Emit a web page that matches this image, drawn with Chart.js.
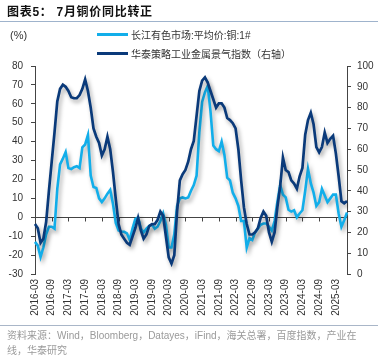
<!DOCTYPE html>
<html><head><meta charset="utf-8">
<script src="https://cdn.jsdelivr.net/npm/chart.js@4/dist/chart.umd.min.js"></script>
<style>
html,body{margin:0;padding:0;background:#fff;}
body{width:392px;height:359px;position:relative;overflow:hidden;font-family:"Liberation Sans","Noto Sans CJK SC",sans-serif;}
canvas{position:absolute;left:0;top:0;}
#title{position:absolute;left:7px;top:4px;font-weight:bold;font-size:12px;font-family:"Liberation Sans","Noto Sans CJK SC";letter-spacing:0.7px;color:#111;white-space:nowrap;line-height:16px;}
#rule1{position:absolute;left:0;top:21px;width:378px;height:1px;background:#9fb3cc;}
#unit{position:absolute;left:10px;top:28px;font-size:11px;color:#333;line-height:14px;}
.leg{position:absolute;left:97px;height:12px;display:flex;align-items:center;font-size:10px;font-family:"Liberation Sans","Noto Sans CJK SC";color:#333;white-space:nowrap;}
.leg i{display:inline-block;width:31px;height:3px;margin-right:3px;}
#rule2{position:absolute;left:0;top:325px;width:378px;height:1px;background:#a9b6c8;}
#src{position:absolute;left:7px;top:328px;font-size:10px;color:#9a9a9a;line-height:15px;white-space:nowrap;font-family:"Liberation Sans","Noto Sans CJK SC";}
</style></head>
<body>
<canvas id="c" width="392" height="359"></canvas>
<div id="title">图表5：&nbsp;7月铜价同比转正</div>
<div id="rule1"></div>
<div id="unit">(%)</div>
<div class="leg" style="top:28px"><i style="background:#12aeea"></i>长江有色市场:平均价:铜:1#</div>
<div class="leg" style="top:47px"><i style="background:#0a3a7a"></i>华泰策略工业金属景气指数（右轴）</div>
<div id="rule2"></div>
<div id="src">资料来源：Wind，Bloomberg，Datayes，iFind，海关总署，百度指数，产业在<br>线，华泰研究</div>
<script>
// categories: monthly 2016-03 .. 2025-07
const categories = [];
for (let y = 2016; y <= 2025; y++) {
  for (let m = 1; m <= 12; m++) {
    if (y === 2016 && m < 3) continue;
    if (y === 2025 && m > 7) continue;
    categories.push(y + '-' + String(m).padStart(2, '0'));
  }
}
// 长江有色市场:平均价:铜:1# 同比 (%), left axis
const copperYoY = [
  -13,-15,-21,-16,-9,-5,-5,-6,15,28,
  31,34.5,26,25.5,26.5,27,26,37,38.5,43.5,
  22,16,15.5,10,8,10,12.5,14.5,7,-3,
  -7,-7.5,-7.7,-8.5,-12,-6,-1,0,-6,-8,
  -6,-4.5,-4,-6,-5,-2,2,-4,-16,-16,
  -9,6,10,10.5,10,10.5,14,17,22,45,
  61,66,69.5,56,38,36,35,40,33,21,
  19.5,13,10,6,-2,-2,-16,-11,-12,-8,
  -6,-4,-3.3,-3.3,-5,-7,-2,8,17,12,
  10.5,4,3,3.7,0,2,3.7,14,25.6,18,
  13,6,8,15,11.5,8,10,12,12,2,
  -5,-1.6,2.5
];
// 华泰策略工业金属景气指数, right axis
const metalIndex = [
  24,22,15,17,25,40,54,68,83,89,
  91,90,88,85,84.5,84.5,86,89,93.5,88,
  80,70,66,63,57,60,66,60,49,36,
  24,19,17,15,14,18,22,27,21,17,
  19,23,24,24,26,30,28,18,8,5,
  9,30,45,48,50,54,60,64,76,88,
  93,94.5,92,88,84,80,82,82,80,75,
  74,72.5,70,60,45,32,24,19,19,20,
  22,27,30,28,20,15.5,20,32,42,56,
  50,49,45,43.5,41,47,51,67,74,77.5,
  72,61,58.5,61,68,63,65,66.5,58,47,
  35,34,35
];
const leftTicks = {min: -30, max: 80, step: 10};
const rightTicks = {min: 0, max: 100, step: 10};

const zeroTicks = {
  id: 'zeroTicks',
  beforeDatasetsDraw(c) {
    const xs = c.scales.x, ys = c.scales.y, ctx = c.ctx;
    const y0 = Math.round(ys.getPixelForValue(0)) + 0.5;
    ctx.save();
    ctx.strokeStyle = '#444';
    ctx.lineWidth = 1;
    ctx.beginPath();
    categories.forEach((lab, i) => {
      if (i % 6 === 0) {
        const px = Math.round(xs.getPixelForValue(i)) + 0.5;
        ctx.moveTo(px, y0);
        ctx.lineTo(px, y0 + 4);
      }
    });
    ctx.stroke();
    ctx.restore();
  }
};
const shadow = {
  id: 'shadow',
  beforeDatasetsDraw(c) {
    const ctx = c.ctx;
    ctx.save();
    ctx.shadowColor = 'rgba(0,0,0,0.35)';
    ctx.shadowBlur = 4;
    ctx.shadowOffsetX = 2;
    ctx.shadowOffsetY = 3;
  },
  afterDatasetsDraw(c) { c.ctx.restore(); }
};

const tickFont = {family: '"Liberation Sans", Arial, sans-serif', size: 10};
new Chart(document.getElementById('c'), {
  type: 'line',
  data: {
    labels: categories,
    datasets: [
      {label: '华泰策略工业金属景气指数（右轴）', data: metalIndex, yAxisID: 'y1',
       borderColor: '#0a3a7a', borderWidth: 2.7, pointRadius: 0, tension: 0, order: 1},
      {label: '长江有色市场:平均价:铜:1#', data: copperYoY, yAxisID: 'y',
       borderColor: '#12aeea', borderWidth: 2.6, pointRadius: 0, tension: 0, order: 2}
    ]
  },
  options: {
    responsive: false, animation: false, devicePixelRatio: 1,
    layout: {padding: {top: 66, left: 0, right: 0, bottom: 0}},
    plugins: {legend: {display: false}, tooltip: {enabled: false}},
    scales: {
      x: {
        ticks: {autoSkip: false, maxRotation: 90, minRotation: 90, padding: 5, font: tickFont, color: '#333',
                callback: (v, i) => (i % 6 === 0 ? categories[i] : null)},
        grid: {display: false, drawTicks: false},
        border: {display: false},
        afterFit(s) { s.height = 85; }
      },
      y: {
        position: 'left', min: leftTicks.min, max: leftTicks.max,
        ticks: {stepSize: leftTicks.step, padding: 8, font: tickFont, color: '#333'},
        grid: {drawOnChartArea: true, color: c => (c.tick && c.tick.value === 0 ? '#444' : 'rgba(0,0,0,0)'),
               tickColor: '#444', tickLength: 4},
        border: {color: '#444'},
        afterFit(s) { s.width = 35; }
      },
      y1: {
        position: 'right', min: rightTicks.min, max: rightTicks.max,
        ticks: {stepSize: rightTicks.step, padding: 6, font: tickFont, color: '#333'},
        grid: {drawOnChartArea: false, tickColor: '#444', tickLength: 4},
        border: {color: '#444'},
        afterFit(s) { s.width = 45; }
      }
    }
  },
  plugins: [zeroTicks, shadow]
});
</script>
</body></html>
